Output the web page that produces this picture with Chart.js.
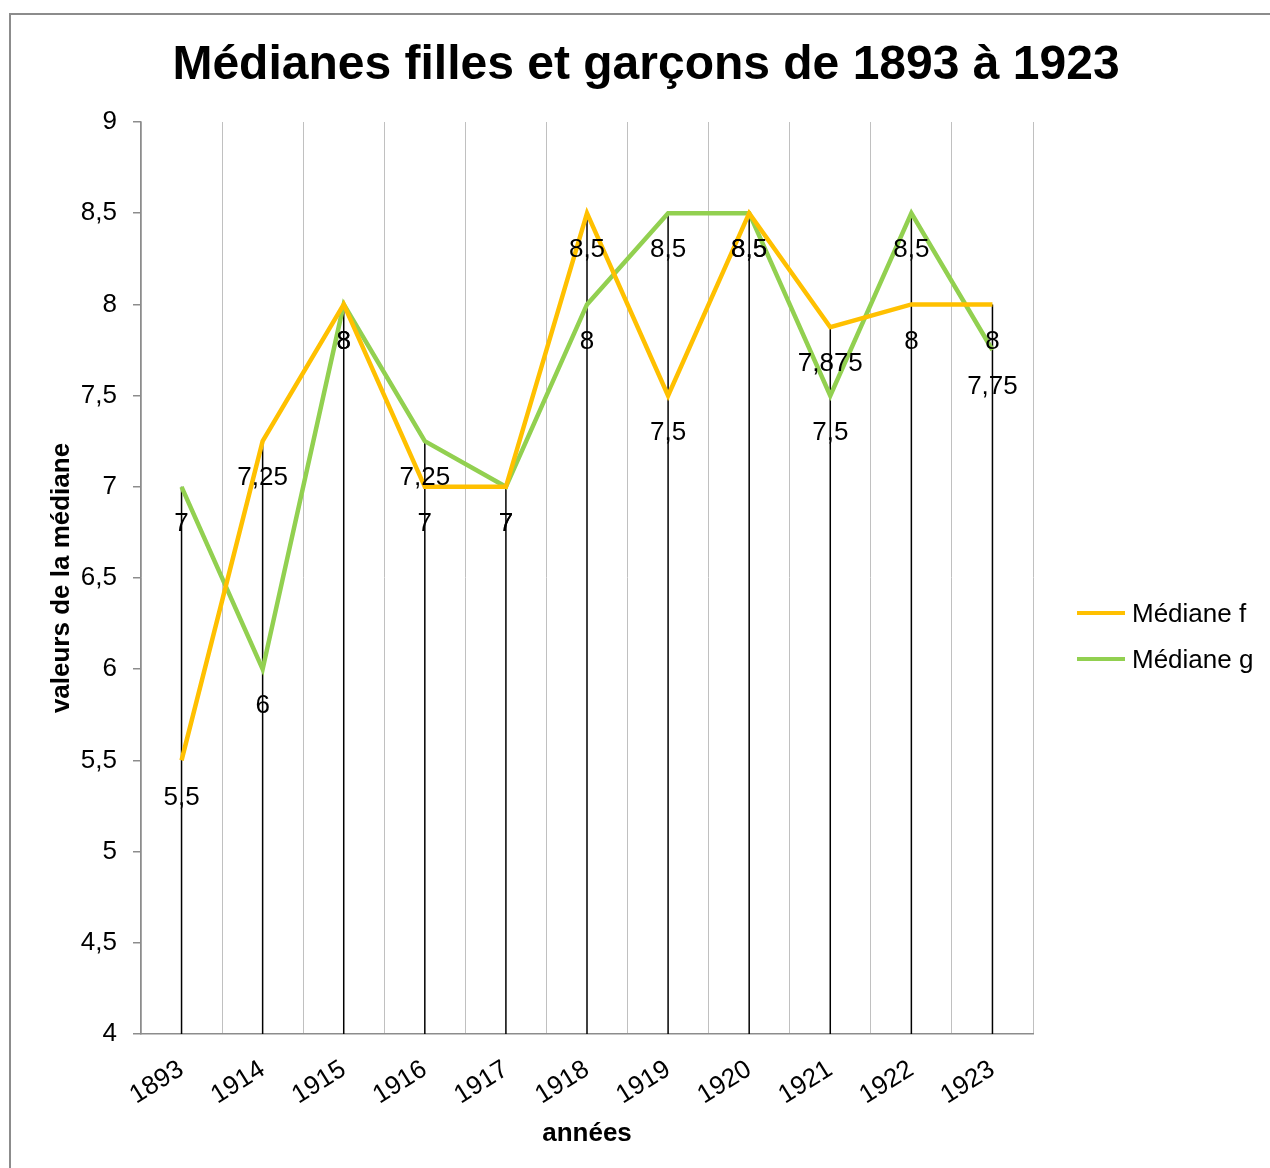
<!DOCTYPE html>
<html lang="fr">
<head>
<meta charset="UTF-8">
<title>Médianes filles et garçons de 1893 à 1923</title>
<script src="https://cdn.jsdelivr.net/npm/chart.js@4.4.1/dist/chart.umd.min.js"></script>
<style>
  html, body { margin: 0; padding: 0; background: #fff; overflow: hidden; }
  #frame {
    position: absolute; left: 9px; top: 13px;
    width: 1300px; height: 1200px;
    border: 2px solid #8c8c8c;
  }
  #wrap { position: absolute; left: 0; top: 0; width: 1270px; height: 1168px; }
</style>
</head>
<body>
<div id="frame"></div>
<div id="wrap"><canvas id="chart"></canvas></div>
<script>
// data
const annees = ["1893", "1914", "1915", "1916", "1917", "1918", "1919", "1920", "1921", "1922", "1923"];
const medianeF = [5.5, 7.25, 8, 7, 7, 8.5, 7.5, 8.5, 7.875, 8, 8];
const medianeG = [7, 6, 8, 7.25, 7, 8, 8.5, 8.5, 7.5, 8.5, 7.75];
const yMin = 4, yMax = 9, yStep = 0.5;

const FONT = "'Liberation Sans', Arial, sans-serif";
const orange = "#FFC000";
const vert = "#92D050";

const fr = v => String(v).replace(".", ",");

// vertical black drop lines from the highest point down to the axis
const dropLines = {
  id: "dropLines",
  beforeDatasetsDraw(chart) {
    const { ctx, chartArea, scales: { x, y } } = chart;
    ctx.save();
    ctx.strokeStyle = "#000";
    ctx.lineWidth = 1.5;
    annees.forEach((a, i) => {
      const px = x.getPixelForValue(i);
      const top = y.getPixelForValue(Math.max(medianeF[i], medianeG[i]));
      ctx.beginPath();
      ctx.moveTo(px, top);
      ctx.lineTo(px, chartArea.bottom);
      ctx.stroke();
    });
    ctx.restore();
  }
};

// value labels under each point
const valueLabels = {
  id: "valueLabels",
  afterDatasetsDraw(chart) {
    const { ctx } = chart;
    ctx.save();
    ctx.font = "26px " + FONT;
    ctx.fillStyle = "#000";
    ctx.textAlign = "center";
    ctx.textBaseline = "middle";
    chart.data.datasets.forEach((ds, di) => {
      chart.getDatasetMeta(di).data.forEach((pt, i) => {
        ctx.fillText(fr(ds.data[i]), pt.x, pt.y + 37);
      });
    });
    ctx.restore();
  }
};

// legend drawn in the space kept free on the right
const sideLegend = {
  id: "sideLegend",
  afterDraw(chart) {
    const { ctx, chartArea } = chart;
    const x0 = chartArea.right + 44;
    let yy = 613;
    ctx.save();
    ctx.font = "26px " + FONT;
    ctx.textBaseline = "middle";
    ctx.textAlign = "left";
    chart.data.datasets.forEach(ds => {
      ctx.strokeStyle = ds.borderColor;
      ctx.lineWidth = 4;
      ctx.beginPath();
      ctx.moveTo(x0, yy);
      ctx.lineTo(x0 + 48, yy);
      ctx.stroke();
      ctx.fillStyle = "#000";
      ctx.fillText(ds.label, x0 + 55, yy + 2);
      yy += 46;
    });
    ctx.restore();
  }
};

new Chart(document.getElementById("chart"), {
  type: "line",
  data: {
    labels: annees,
    datasets: [
      { label: "Médiane f", data: medianeF, borderColor: orange, backgroundColor: orange, borderWidth: 4.5, pointRadius: 0, tension: 0 },
      { label: "Médiane g", data: medianeG, borderColor: vert, backgroundColor: vert, borderWidth: 4.5, pointRadius: 0, tension: 0 }
    ]
  },
  options: {
    responsive: true,
    maintainAspectRatio: false,
    animation: false,
    layout: { padding: { left: 22, right: 0, top: 0, bottom: 0 } },
    plugins: {
      legend: { display: false },
      tooltip: { enabled: false },
      title: {
        display: true,
        text: "Médianes filles et garçons de 1893 à 1923",
        color: "#000",
        font: { family: FONT, size: 48, weight: "bold", lineHeight: 1.2 },
        padding: { top: 37, bottom: 27.4 }
      }
    },
    scales: {
      x: {
        offset: true,
        grid: { offset: true, color: "#c0c0c0", lineWidth: 1, drawTicks: false },
        border: { color: "#8c8c8c", width: 1.5 },
        ticks: { color: "#000", font: { family: FONT, size: 26 }, minRotation: 32, maxRotation: 32, padding: 20 },
        title: {
          display: true, text: "années", color: "#000",
          font: { family: FONT, size: 26, weight: "bold", lineHeight: 1.2 },
          padding: { top: 0, bottom: 18.4 }
        },
        afterFit(scale) { scale.height = 134; }
      },
      y: {
        min: yMin, max: yMax,
        grid: { drawOnChartArea: false, color: "#8c8c8c", tickLength: 8, lineWidth: 1.5 },
        border: { color: "#8c8c8c", width: 1.5 },
        ticks: { stepSize: yStep, color: "#000", font: { family: FONT, size: 26 }, padding: 16, callback: v => fr(v) },
        title: {
          display: true, text: "valeurs de la médiane", color: "#000",
          font: { family: FONT, size: 26, weight: "bold", lineHeight: 1.2 },
          padding: { top: 24.4, bottom: 0 }
        },
        afterFit(scale) { scale.width = 119; }
      },
      legendSpace: {
        type: "linear", position: "right", display: true,
        grid: { display: false }, border: { display: false }, ticks: { display: false },
        afterFit(scale) { scale.width = 237; }
      }
    }
  },
  plugins: [dropLines, valueLabels, sideLegend]
});
</script>
</body>
</html>
